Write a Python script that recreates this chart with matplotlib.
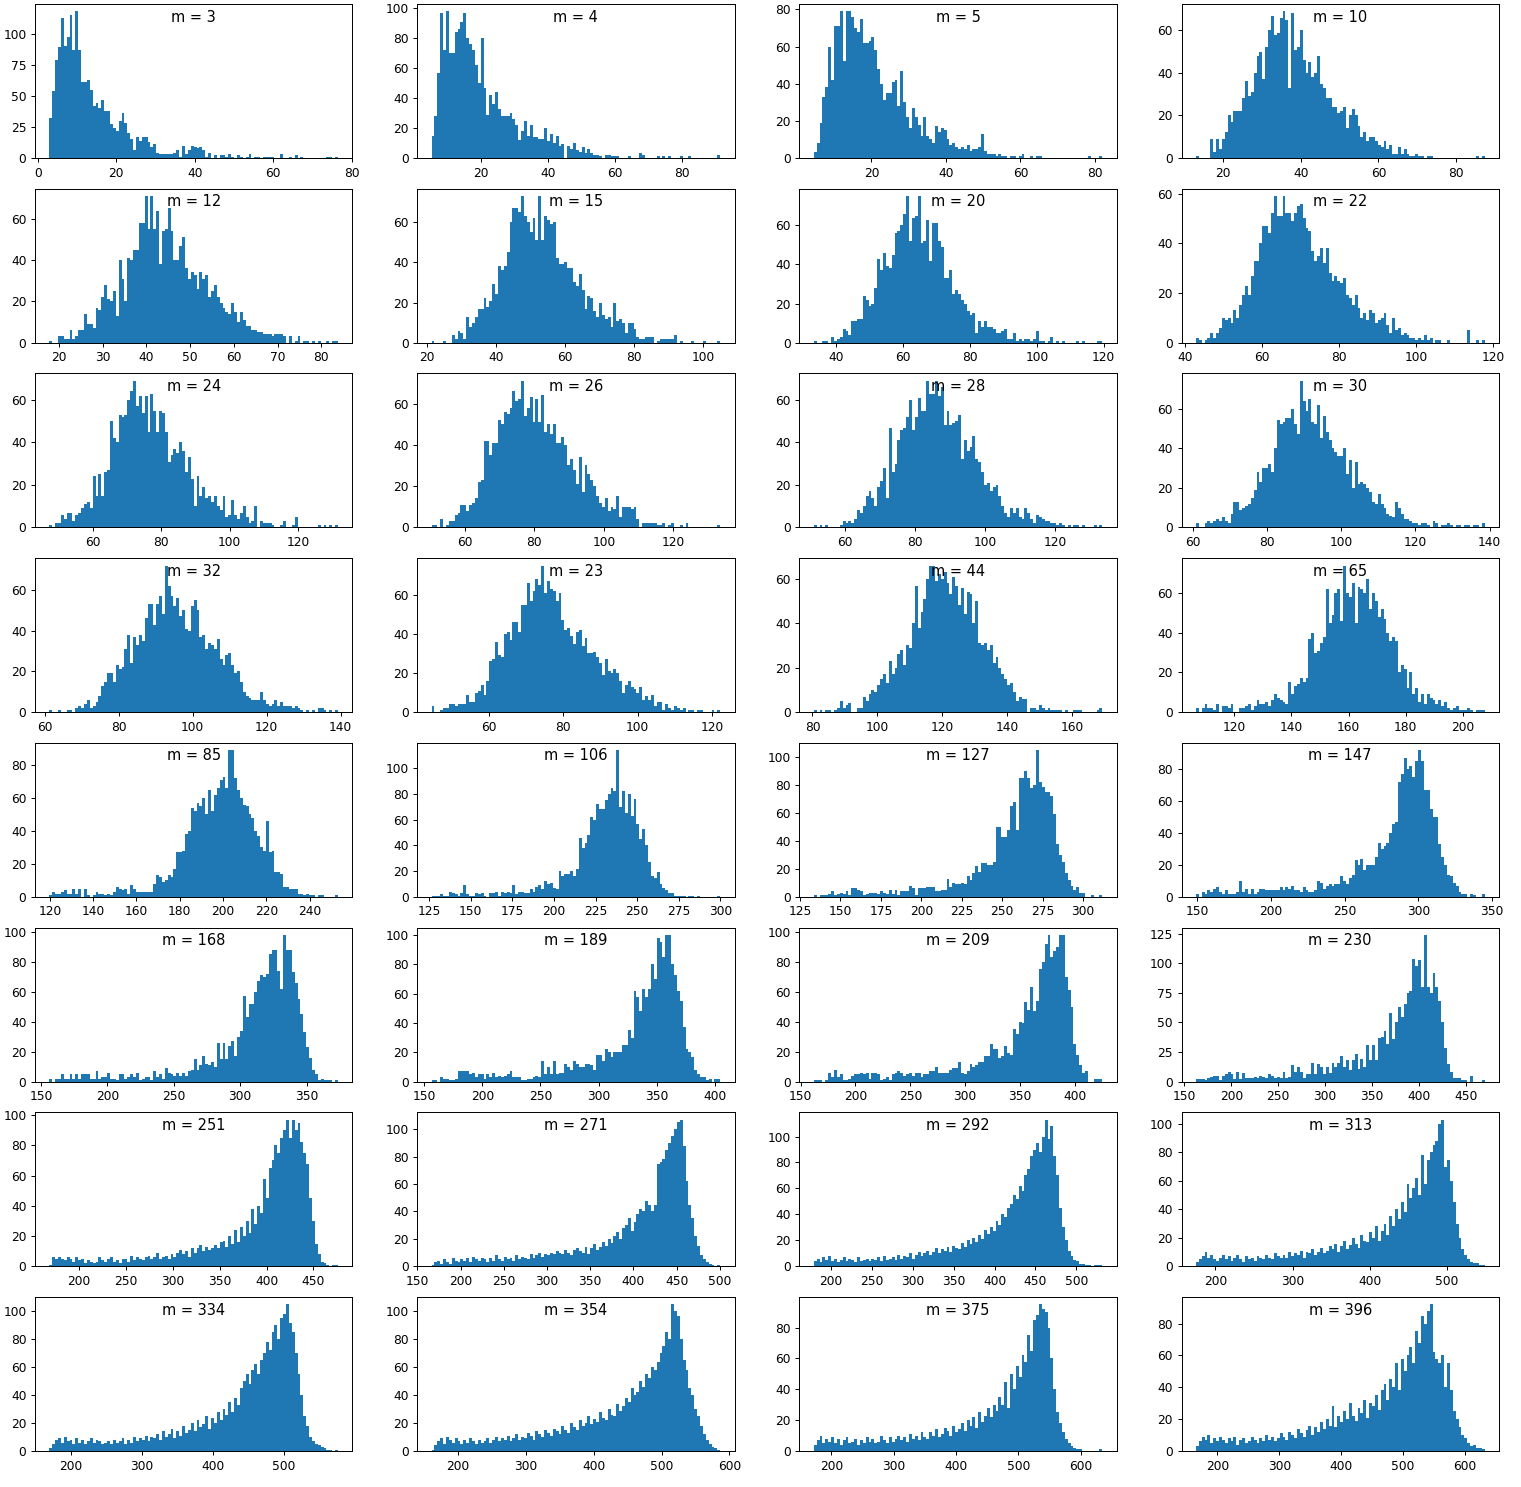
#!/usr/bin/env python3
# -*- coding: utf-8 -*-
"""
Histogramas (100 bins) para cada valor de m, en una grilla de 8x4.
"""

import numpy as np
import matplotlib
matplotlib.use('Agg')
import matplotlib.pyplot as plt

TitleSize = 12
NumberSize = 10
DPI = 88

plt.close('all')

#%% datos

m_values = [3, 4, 5, 10, 12, 15, 20, 22, 24, 26, 28, 30, 32, 23, 44, 65,
            85, 106, 127, 147, 168, 189, 209, 230, 251, 271, 292, 313, 334, 354, 375, 396]

# rango (min, max) de los datos de cada histograma
x_lo = [3.0, 5.4, 4.5, 13.0, 17.8, 21.3, 33.3, 42.9, 47.2, 50.4, 51.0, 60.9,
        61.2, 44.5, 80.4, 106.6, 119.8, 126.5, 133.5, 149.0, 156.4, 156.4, 162.0, 162.3,
        168.6, 166.5, 178.6, 174.7, 169.7, 161.0, 171.9, 165.3]
x_hi = [76.5, 91.4, 82.0, 87.3, 83.8, 105.0, 119.6, 117.7, 131.7, 133.5, 133.6, 138.6,
        139.3, 122.2, 169.3, 207.6, 253.1, 299.8, 312.0, 345.0, 373.7, 404.6, 425.0, 469.7,
        476.1, 500.4, 532.0, 548.7, 576.7, 586.3, 634.4, 631.7]

# cuentas por bin (100 bins)
c3 = [32, 54, 79, 89, 113, 90, 97, 115, 87, 118,
      87, 61, 61, 63, 55, 42, 44, 40, 47, 38,
      38, 27, 24, 22, 30, 36, 28, 20, 15, 6,
      17, 14, 17, 17, 13, 9, 11, 4, 3, 3,
      3, 3, 3, 4, 6, 1, 10, 3, 6, 10,
      9, 8, 9, 6, 1, 4, 0, 2, 0, 2,
      2, 1, 3, 1, 0, 2, 1, 0, 1, 3,
      0, 1, 1, 0, 1, 1, 1, 1, 0, 0,
      3, 0, 0, 1, 0, 2, 0, 1, 0, 0,
      0, 0, 0, 0, 0, 0, 1, 1, 0, 1]
c4 = [15, 28, 57, 97, 72, 98, 70, 70, 84, 86,
      91, 97, 80, 76, 72, 62, 50, 80, 47, 29,
      42, 36, 44, 33, 28, 28, 28, 30, 26, 22,
      12, 18, 25, 15, 22, 14, 14, 13, 13, 20,
      11, 16, 10, 15, 8, 9, 0, 8, 6, 10,
      5, 4, 7, 3, 6, 3, 2, 2, 1, 0,
      2, 2, 1, 1, 1, 0, 0, 0, 1, 0,
      0, 0, 3, 2, 0, 0, 0, 0, 1, 0,
      1, 0, 1, 0, 0, 0, 1, 0, 0, 1,
      0, 0, 0, 0, 0, 0, 0, 0, 0, 2]
c5 = [3, 8, 19, 33, 38, 60, 42, 71, 71, 79,
      52, 79, 79, 76, 70, 68, 75, 62, 62, 63,
      65, 58, 48, 40, 31, 35, 35, 41, 42, 28,
      47, 30, 22, 16, 27, 22, 18, 12, 22, 12,
      10, 8, 17, 14, 16, 15, 10, 7, 8, 6,
      5, 6, 5, 7, 4, 5, 5, 6, 13, 4,
      2, 2, 2, 1, 2, 1, 1, 0, 1, 1,
      0, 1, 2, 0, 0, 1, 0, 1, 1, 0,
      0, 0, 0, 0, 0, 0, 0, 0, 0, 0,
      0, 0, 0, 0, 0, 1, 0, 0, 0, 1]
c10 = [1, 0, 0, 0, 0, 9, 3, 9, 4, 9,
       12, 20, 17, 22, 22, 22, 28, 36, 29, 31,
       40, 48, 50, 37, 52, 60, 67, 58, 59, 66,
       69, 65, 33, 68, 51, 52, 60, 46, 40, 45,
       38, 40, 48, 35, 33, 28, 28, 24, 24, 21,
       22, 24, 14, 20, 23, 20, 15, 10, 12, 8,
       10, 10, 8, 6, 5, 8, 4, 6, 2, 2,
       5, 2, 4, 2, 1, 1, 2, 1, 1, 0,
       1, 1, 0, 0, 0, 0, 0, 0, 0, 0,
       0, 0, 0, 0, 0, 0, 0, 1, 0, 1]
c12 = [1, 0, 0, 3, 3, 2, 2, 6, 2, 3,
       6, 6, 14, 9, 9, 7, 17, 16, 22, 28,
       21, 20, 25, 13, 40, 31, 20, 41, 40, 45,
       45, 58, 58, 71, 55, 71, 55, 64, 38, 54,
       55, 65, 54, 40, 40, 47, 51, 36, 31, 34,
       33, 26, 34, 31, 33, 22, 25, 28, 22, 19,
       17, 15, 14, 19, 15, 10, 15, 11, 8, 8,
       6, 6, 5, 5, 4, 4, 4, 3, 4, 4,
       4, 3, 0, 3, 0, 1, 3, 0, 1, 1,
       0, 1, 0, 1, 0, 0, 1, 0, 1, 1]
c15 = [1, 0, 0, 0, 1, 0, 0, 4, 2, 6,
       5, 2, 13, 8, 10, 13, 17, 17, 22, 18,
       21, 29, 24, 38, 36, 38, 45, 60, 67, 67,
       65, 73, 63, 60, 55, 62, 51, 73, 51, 63,
       61, 59, 60, 42, 39, 39, 40, 37, 37, 30,
       28, 34, 26, 17, 23, 22, 16, 13, 20, 14,
       12, 13, 8, 20, 11, 12, 10, 5, 10, 10,
       7, 3, 2, 2, 3, 3, 3, 0, 1, 2,
       2, 2, 2, 2, 4, 0, 1, 0, 0, 0,
       1, 0, 0, 0, 1, 0, 0, 0, 0, 1]
c20 = [1, 0, 0, 1, 1, 0, 3, 1, 2, 3,
       7, 6, 4, 11, 11, 12, 12, 24, 22, 19,
       20, 28, 43, 37, 46, 39, 38, 45, 56, 57,
       60, 66, 75, 52, 64, 65, 75, 51, 52, 63,
       42, 61, 61, 52, 49, 33, 33, 37, 25, 27,
       25, 22, 20, 16, 14, 15, 5, 11, 8, 11,
       8, 8, 7, 5, 5, 6, 7, 2, 2, 5,
       1, 2, 1, 2, 2, 1, 2, 6, 1, 1,
       0, 1, 3, 0, 1, 0, 1, 0, 0, 0,
       0, 1, 0, 1, 0, 0, 0, 0, 1, 1]
c22 = [2, 1, 0, 1, 2, 4, 2, 4, 6, 10,
       9, 10, 8, 13, 10, 15, 19, 23, 19, 27,
       33, 33, 40, 47, 47, 44, 52, 59, 51, 51,
       59, 52, 52, 49, 52, 55, 56, 50, 46, 45,
       37, 33, 35, 38, 32, 38, 28, 25, 27, 25,
       24, 26, 19, 18, 15, 19, 14, 10, 12, 9,
       13, 12, 8, 9, 10, 12, 7, 4, 10, 5,
       6, 3, 4, 3, 2, 2, 1, 2, 1, 3,
       1, 2, 0, 1, 1, 0, 0, 1, 0, 0,
       0, 0, 0, 0, 5, 0, 0, 1, 0, 1]
c24 = [1, 0, 2, 2, 6, 4, 7, 7, 3, 6,
       7, 9, 11, 12, 9, 24, 15, 25, 15, 26,
       27, 50, 42, 40, 53, 52, 53, 60, 64, 69,
       57, 62, 54, 62, 45, 63, 55, 45, 55, 54,
       45, 31, 34, 37, 35, 40, 36, 26, 33, 23,
       10, 24, 15, 19, 14, 15, 12, 15, 10, 8,
       15, 5, 6, 13, 6, 4, 7, 10, 5, 2,
       3, 10, 0, 3, 2, 2, 2, 1, 0, 0,
       1, 3, 0, 0, 1, 5, 0, 0, 0, 0,
       0, 0, 0, 1, 0, 1, 0, 1, 0, 1]
c26 = [1, 1, 0, 4, 0, 1, 3, 3, 6, 7,
       11, 11, 8, 11, 12, 14, 22, 23, 42, 42,
       35, 41, 41, 52, 50, 56, 55, 58, 66, 61,
       62, 71, 54, 58, 63, 51, 62, 51, 64, 46,
       50, 45, 50, 41, 41, 44, 40, 30, 33, 28,
       21, 34, 17, 30, 26, 23, 20, 15, 12, 10,
       14, 8, 10, 9, 15, 5, 10, 10, 10, 9,
       10, 4, 0, 2, 2, 2, 2, 2, 1, 1,
       2, 0, 1, 2, 0, 0, 1, 0, 2, 0,
       0, 0, 0, 0, 0, 0, 0, 0, 0, 1]
c28 = [1, 0, 1, 0, 1, 0, 0, 0, 0, 1,
       3, 2, 3, 2, 4, 8, 7, 10, 15, 17,
       14, 10, 19, 22, 28, 14, 47, 26, 30, 41,
       46, 47, 52, 60, 46, 52, 61, 55, 55, 69,
       63, 63, 69, 62, 66, 48, 55, 48, 49, 50,
       53, 32, 41, 36, 38, 43, 32, 31, 26, 20,
       21, 17, 19, 20, 15, 10, 7, 5, 9, 7,
       9, 5, 4, 9, 7, 4, 2, 6, 5, 4,
       3, 3, 2, 2, 1, 2, 1, 0, 1, 0,
       1, 1, 0, 1, 0, 0, 0, 1, 0, 1]
c30 = [2, 0, 0, 2, 3, 2, 3, 4, 3, 5,
       3, 2, 7, 13, 13, 9, 10, 11, 12, 15,
       19, 28, 23, 30, 30, 32, 28, 40, 54, 52,
       53, 55, 55, 60, 52, 47, 74, 64, 59, 65,
       53, 52, 62, 45, 56, 48, 44, 40, 38, 36,
       36, 40, 27, 34, 20, 33, 22, 23, 22, 20,
       18, 13, 12, 17, 12, 10, 7, 6, 5, 13,
       10, 7, 4, 4, 3, 2, 2, 1, 2, 2,
       1, 0, 3, 2, 0, 1, 1, 2, 1, 0,
       1, 1, 0, 1, 1, 0, 1, 1, 0, 2]
c32 = [1, 0, 0, 1, 0, 0, 1, 1, 0, 2,
       3, 2, 4, 6, 2, 3, 5, 8, 13, 15,
       19, 19, 15, 23, 21, 22, 31, 38, 24, 37,
       33, 38, 35, 46, 53, 53, 43, 53, 57, 48,
       72, 62, 57, 52, 56, 47, 50, 41, 40, 52,
       55, 50, 37, 38, 31, 34, 33, 31, 36, 26,
       23, 28, 29, 23, 19, 20, 15, 10, 8, 7,
       6, 6, 6, 10, 6, 4, 3, 4, 6, 3,
       5, 3, 3, 3, 2, 3, 2, 1, 0, 1,
       0, 1, 0, 2, 2, 1, 0, 1, 0, 1]
c23 = [3, 0, 0, 1, 2, 2, 4, 4, 3, 4,
       4, 4, 9, 5, 5, 10, 11, 14, 9, 16,
       26, 27, 36, 29, 28, 40, 41, 37, 46, 46,
       41, 55, 55, 66, 57, 62, 68, 65, 75, 61,
       67, 63, 62, 57, 61, 47, 42, 43, 39, 35,
       41, 42, 34, 38, 30, 30, 31, 28, 25, 19,
       27, 21, 20, 22, 20, 16, 10, 14, 16, 13,
       12, 10, 13, 6, 8, 6, 9, 3, 5, 5,
       1, 4, 2, 1, 3, 2, 1, 2, 0, 1,
       1, 0, 1, 1, 0, 0, 0, 1, 0, 1]
c44 = [1, 0, 1, 0, 1, 1, 0, 1, 2, 5,
       2, 3, 4, 0, 0, 2, 2, 7, 5, 8,
       10, 9, 12, 15, 17, 13, 23, 17, 20, 26,
       28, 21, 30, 29, 40, 57, 38, 45, 51, 60,
       66, 66, 59, 62, 60, 63, 58, 53, 61, 57,
       48, 56, 44, 54, 53, 40, 50, 31, 30, 31,
       28, 30, 22, 25, 20, 17, 15, 12, 13, 9,
       5, 7, 6, 6, 0, 2, 2, 1, 3, 2,
       1, 2, 1, 1, 1, 1, 0, 1, 0, 0,
       1, 1, 1, 0, 0, 0, 0, 0, 1, 2]
c65 = [2, 0, 2, 4, 2, 2, 1, 4, 0, 3,
       3, 2, 4, 0, 0, 2, 2, 3, 4, 1,
       3, 6, 4, 4, 5, 3, 6, 9, 7, 6,
       5, 4, 15, 9, 13, 14, 17, 15, 17, 37,
       40, 30, 31, 35, 38, 62, 45, 49, 60, 62,
       46, 74, 60, 58, 65, 45, 63, 62, 60, 67,
       52, 60, 56, 48, 52, 47, 40, 36, 38, 36,
       20, 24, 22, 12, 20, 9, 12, 5, 9, 4,
       9, 7, 6, 4, 6, 3, 5, 2, 1, 2,
       3, 1, 1, 1, 2, 1, 0, 1, 1, 1]
c85 = [1, 3, 2, 2, 3, 4, 2, 2, 5, 2,
       5, 0, 5, 1, 0, 1, 3, 2, 2, 1,
       2, 1, 3, 6, 5, 4, 5, 2, 7, 5,
       3, 3, 3, 3, 3, 3, 8, 13, 12, 9,
       10, 13, 12, 17, 27, 27, 28, 38, 40, 54,
       52, 57, 55, 60, 50, 65, 52, 62, 66, 71,
       73, 66, 89, 89, 72, 65, 60, 56, 55, 50,
       48, 40, 37, 30, 28, 46, 27, 28, 15, 15,
       14, 6, 6, 5, 5, 5, 2, 2, 1, 2,
       1, 1, 0, 1, 1, 0, 0, 0, 0, 1]
c106 = [1, 1, 1, 2, 1, 1, 4, 3, 2, 1,
        3, 9, 2, 1, 1, 3, 2, 3, 1, 0,
        3, 3, 4, 1, 4, 3, 4, 3, 9, 2,
        4, 4, 3, 3, 6, 4, 8, 9, 6, 12,
        10, 11, 7, 6, 20, 16, 18, 18, 20, 16,
        22, 46, 38, 42, 48, 62, 60, 72, 68, 68,
        75, 80, 85, 82, 114, 70, 82, 65, 80, 63,
        76, 57, 45, 53, 40, 27, 16, 15, 19, 10,
        7, 5, 3, 3, 1, 1, 1, 1, 0, 1,
        1, 0, 1, 0, 0, 0, 0, 0, 0, 1]
c127 = [1, 0, 1, 1, 1, 2, 4, 1, 2, 3,
        2, 4, 1, 6, 6, 5, 4, 1, 2, 3,
        3, 3, 2, 4, 3, 2, 5, 2, 5, 1,
        4, 4, 4, 8, 6, 1, 6, 6, 6, 7,
        7, 7, 4, 4, 5, 5, 13, 7, 10, 9,
        9, 10, 9, 15, 12, 17, 22, 18, 24, 24,
        23, 23, 25, 50, 50, 43, 43, 48, 65, 68,
        48, 85, 85, 90, 85, 78, 80, 105, 82, 79,
        75, 75, 72, 59, 38, 30, 25, 17, 12, 8,
        5, 7, 3, 3, 0, 0, 1, 0, 0, 1]
c147 = [2, 0, 3, 2, 4, 3, 5, 6, 3, 2,
        4, 2, 2, 2, 3, 10, 3, 5, 2, 5,
        2, 3, 5, 5, 4, 4, 4, 4, 4, 6,
        4, 6, 5, 7, 4, 4, 3, 6, 4, 3,
        3, 4, 10, 9, 5, 7, 8, 7, 8, 8,
        13, 10, 8, 12, 14, 23, 20, 24, 17, 20,
        20, 20, 25, 34, 30, 32, 34, 40, 46, 47,
        72, 77, 87, 80, 82, 75, 85, 92, 85, 67,
        67, 55, 50, 50, 33, 25, 20, 14, 13, 9,
        7, 3, 2, 2, 0, 2, 1, 0, 0, 2]
c168 = [2, 0, 2, 2, 5, 2, 2, 5, 2, 5,
        2, 5, 5, 5, 2, 2, 7, 2, 3, 3,
        6, 2, 2, 1, 5, 5, 2, 3, 5, 3,
        6, 1, 2, 3, 3, 1, 7, 3, 5, 2,
        9, 6, 5, 4, 6, 4, 6, 4, 7, 8,
        15, 8, 11, 17, 12, 11, 13, 10, 26, 15,
        26, 15, 24, 27, 17, 30, 34, 57, 43, 52,
        52, 60, 67, 71, 70, 72, 85, 88, 88, 74,
        62, 98, 88, 88, 73, 66, 55, 45, 33, 23,
        16, 8, 5, 1, 2, 1, 1, 1, 0, 1]
c189 = [1, 1, 0, 3, 2, 2, 1, 1, 2, 7,
        7, 7, 7, 5, 6, 3, 5, 5, 2, 5,
        3, 6, 3, 4, 3, 4, 5, 7, 3, 3,
        3, 1, 1, 2, 2, 3, 4, 3, 14, 5,
        10, 5, 14, 5, 6, 6, 12, 10, 8, 14,
        12, 10, 10, 12, 12, 11, 8, 18, 18, 14,
        22, 20, 17, 20, 20, 20, 25, 25, 35, 30,
        62, 58, 48, 63, 58, 63, 80, 70, 98, 95,
        85, 100, 100, 80, 73, 62, 55, 37, 22, 20,
        17, 8, 5, 3, 3, 1, 2, 0, 2, 2]
c209 = [1, 1, 1, 0, 1, 6, 3, 8, 3, 5,
        1, 1, 2, 4, 5, 5, 6, 5, 6, 2,
        6, 6, 5, 1, 2, 3, 1, 5, 6, 7,
        6, 4, 5, 6, 4, 6, 6, 3, 5, 5,
        7, 7, 10, 6, 6, 6, 6, 8, 9, 9,
        13, 6, 5, 7, 12, 10, 11, 13, 13, 17,
        17, 25, 22, 22, 16, 17, 24, 19, 18, 35,
        32, 40, 39, 53, 48, 63, 47, 54, 75, 80,
        92, 98, 83, 87, 90, 98, 98, 70, 61, 50,
        25, 18, 11, 6, 7, 0, 0, 2, 2, 2]
c230 = [2, 2, 2, 1, 3, 4, 5, 5, 1, 5,
        6, 8, 6, 2, 8, 2, 7, 3, 3, 3,
        4, 3, 5, 4, 3, 6, 5, 3, 4, 3,
        8, 3, 4, 14, 8, 12, 8, 3, 6, 6,
        16, 6, 15, 12, 6, 12, 7, 16, 12, 16,
        22, 12, 18, 10, 18, 23, 11, 19, 12, 31,
        18, 31, 18, 37, 38, 43, 32, 58, 36, 50,
        63, 55, 66, 75, 77, 104, 98, 103, 80, 124,
        80, 75, 92, 80, 68, 50, 28, 15, 8, 3,
        3, 3, 1, 1, 0, 5, 0, 0, 0, 1]
c251 = [1, 6, 5, 6, 5, 4, 6, 5, 3, 6,
        4, 5, 2, 4, 3, 2, 3, 6, 4, 3,
        5, 6, 3, 4, 2, 5, 5, 3, 7, 4,
        6, 5, 4, 6, 7, 5, 6, 9, 5, 6,
        7, 5, 8, 6, 9, 11, 8, 10, 6, 12,
        9, 12, 14, 10, 13, 11, 12, 14, 12, 16,
        17, 13, 20, 15, 24, 16, 26, 20, 30, 22,
        38, 28, 40, 35, 58, 45, 65, 70, 80, 75,
        85, 90, 97, 85, 97, 90, 95, 82, 75, 68,
        45, 30, 15, 8, 3, 2, 1, 0, 1, 1]
c271 = [1, 3, 4, 2, 5, 3, 2, 6, 4, 3,
        5, 4, 6, 3, 7, 5, 4, 6, 5, 3,
        6, 4, 8, 5, 4, 7, 5, 6, 4, 8,
        5, 7, 6, 5, 9, 6, 8, 10, 7, 9,
        8, 10, 9, 11, 10, 9, 12, 10, 8, 12,
        13, 11, 10, 14, 9, 13, 16, 12, 14, 18,
        15, 20, 17, 22, 25, 20, 28, 30, 35, 26,
        32, 38, 42, 40, 48, 45, 40, 45, 75, 76,
        78, 85, 90, 95, 100, 105, 107, 88, 62, 45,
        35, 22, 15, 8, 5, 3, 2, 1, 0, 1]
c292 = [4, 6, 3, 7, 5, 8, 4, 6, 3, 5,
        7, 4, 6, 5, 3, 7, 4, 5, 6, 4,
        6, 5, 7, 4, 8, 5, 6, 7, 5, 9,
        6, 8, 7, 10, 6, 9, 11, 8, 10, 12,
        9, 11, 14, 10, 13, 12, 15, 11, 16, 14,
        13, 18, 15, 20, 17, 22, 19, 24, 21, 28,
        25, 30, 27, 35, 32, 40, 38, 45, 48, 55,
        52, 62, 58, 70, 75, 85, 90, 95, 88, 100,
        113, 98, 108, 85, 70, 45, 30, 20, 12, 8,
        5, 4, 2, 2, 1, 1, 0, 1, 1, 1]
c313 = [3, 5, 7, 10, 6, 8, 5, 4, 6, 8,
        5, 7, 4, 6, 8, 5, 3, 7, 5, 6,
        4, 7, 6, 5, 8, 6, 5, 9, 7, 6,
        8, 6, 10, 7, 9, 8, 11, 6, 10, 9,
        12, 8, 10, 13, 9, 11, 14, 12, 16, 10,
        14, 18, 12, 15, 20, 16, 13, 22, 18, 17,
        24, 20, 28, 18, 25, 30, 22, 35, 28, 40,
        33, 45, 38, 58, 48, 55, 62, 50, 78, 58,
        75, 80, 85, 88, 100, 103, 70, 75, 60, 45,
        30, 20, 12, 8, 5, 3, 2, 2, 1, 1]
c334 = [2, 5, 8, 9, 6, 10, 7, 8, 5, 9,
        6, 8, 5, 7, 9, 6, 8, 7, 5, 6,
        7, 5, 8, 6, 7, 9, 5, 8, 6, 10,
        7, 9, 8, 11, 7, 10, 9, 12, 8, 14,
        10, 12, 16, 9, 14, 11, 18, 13, 15, 20,
        14, 22, 17, 19, 25, 16, 24, 20, 28, 22,
        30, 26, 35, 28, 38, 33, 45, 50, 55, 48,
        58, 62, 55, 65, 70, 78, 72, 85, 90, 80,
        95, 98, 105, 92, 85, 70, 55, 40, 25, 18,
        10, 7, 5, 4, 3, 2, 1, 1, 0, 1]
c354 = [1, 4, 7, 9, 5, 10, 8, 6, 9, 7,
        5, 8, 6, 9, 7, 5, 8, 6, 7, 9,
        6, 8, 10, 7, 9, 8, 11, 7, 9, 12,
        8, 10, 9, 13, 11, 8, 14, 12, 10, 15,
        13, 11, 16, 14, 12, 18, 15, 13, 20, 17,
        15, 22, 18, 20, 25, 19, 23, 21, 28, 24,
        22, 30, 26, 25, 34, 29, 32, 38, 35, 45,
        40, 42, 50, 46, 55, 52, 60, 58, 64, 70,
        75, 85, 80, 105, 100, 97, 80, 65, 58, 45,
        40, 30, 25, 18, 12, 8, 5, 3, 2, 1]
c375 = [4, 7, 10, 5, 8, 6, 9, 5, 8, 4,
        7, 9, 5, 6, 8, 4, 7, 5, 9, 6,
        8, 5, 6, 10, 7, 5, 9, 6, 8, 10,
        7, 9, 6, 11, 8, 10, 7, 12, 9, 8,
        12, 10, 14, 9, 11, 15, 13, 10, 16, 12,
        14, 18, 13, 20, 16, 22, 15, 25, 19, 23,
        28, 22, 30, 26, 35, 30, 45, 28, 50, 40,
        55, 48, 62, 58, 75, 65, 85, 88, 95, 92,
        90, 80, 60, 40, 25, 18, 12, 8, 5, 3,
        2, 1, 1, 0, 0, 0, 0, 0, 0, 1]
c396 = [3, 6, 9, 7, 10, 5, 8, 6, 9, 7,
        5, 8, 6, 9, 4, 7, 8, 5, 6, 9,
        7, 5, 8, 6, 10, 7, 9, 6, 8, 11,
        9, 7, 12, 10, 8, 14, 11, 9, 13, 16,
        10, 15, 12, 18, 14, 20, 16, 28, 15, 22,
        18, 25, 20, 30, 22, 19, 27, 24, 32, 21,
        30, 28, 35, 26, 38, 42, 32, 45, 40, 55,
        38, 58, 50, 60, 65, 55, 75, 68, 85, 80,
        88, 92, 62, 58, 55, 60, 40, 55, 38, 25,
        20, 15, 10, 8, 5, 3, 4, 2, 2, 1]

counts = [c3, c4, c5, c10, c12, c15, c20, c22, c24, c26, c28, c30,
          c32, c23, c44, c65, c85, c106, c127, c147, c168, c189, c209, c230,
          c251, c271, c292, c313, c334, c354, c375, c396]

#%% figura

fig, axes = plt.subplots(8, 4, figsize=(1521 / DPI, 1487 / DPI), dpi=DPI)
fig.subplots_adjust(left=0.023, right=0.9855, bottom=0.0242, top=0.9973,
                    wspace=0.204, hspace=0.2)

for ax, m, lo, hi, cnt in zip(axes.flat, m_values, x_lo, x_hi, counts):
    edges = np.linspace(lo, hi, len(cnt) + 1)
    centers = 0.5 * (edges[:-1] + edges[1:])
    ax.hist(centers, bins=edges, weights=cnt)
    ax.text(0.5, 0.915, 'm = %d' % m, ha='center', va='center',
            fontsize=TitleSize, transform=ax.transAxes)
    ax.tick_params(labelsize=NumberSize)

plt.savefig('out.png', dpi=DPI)
